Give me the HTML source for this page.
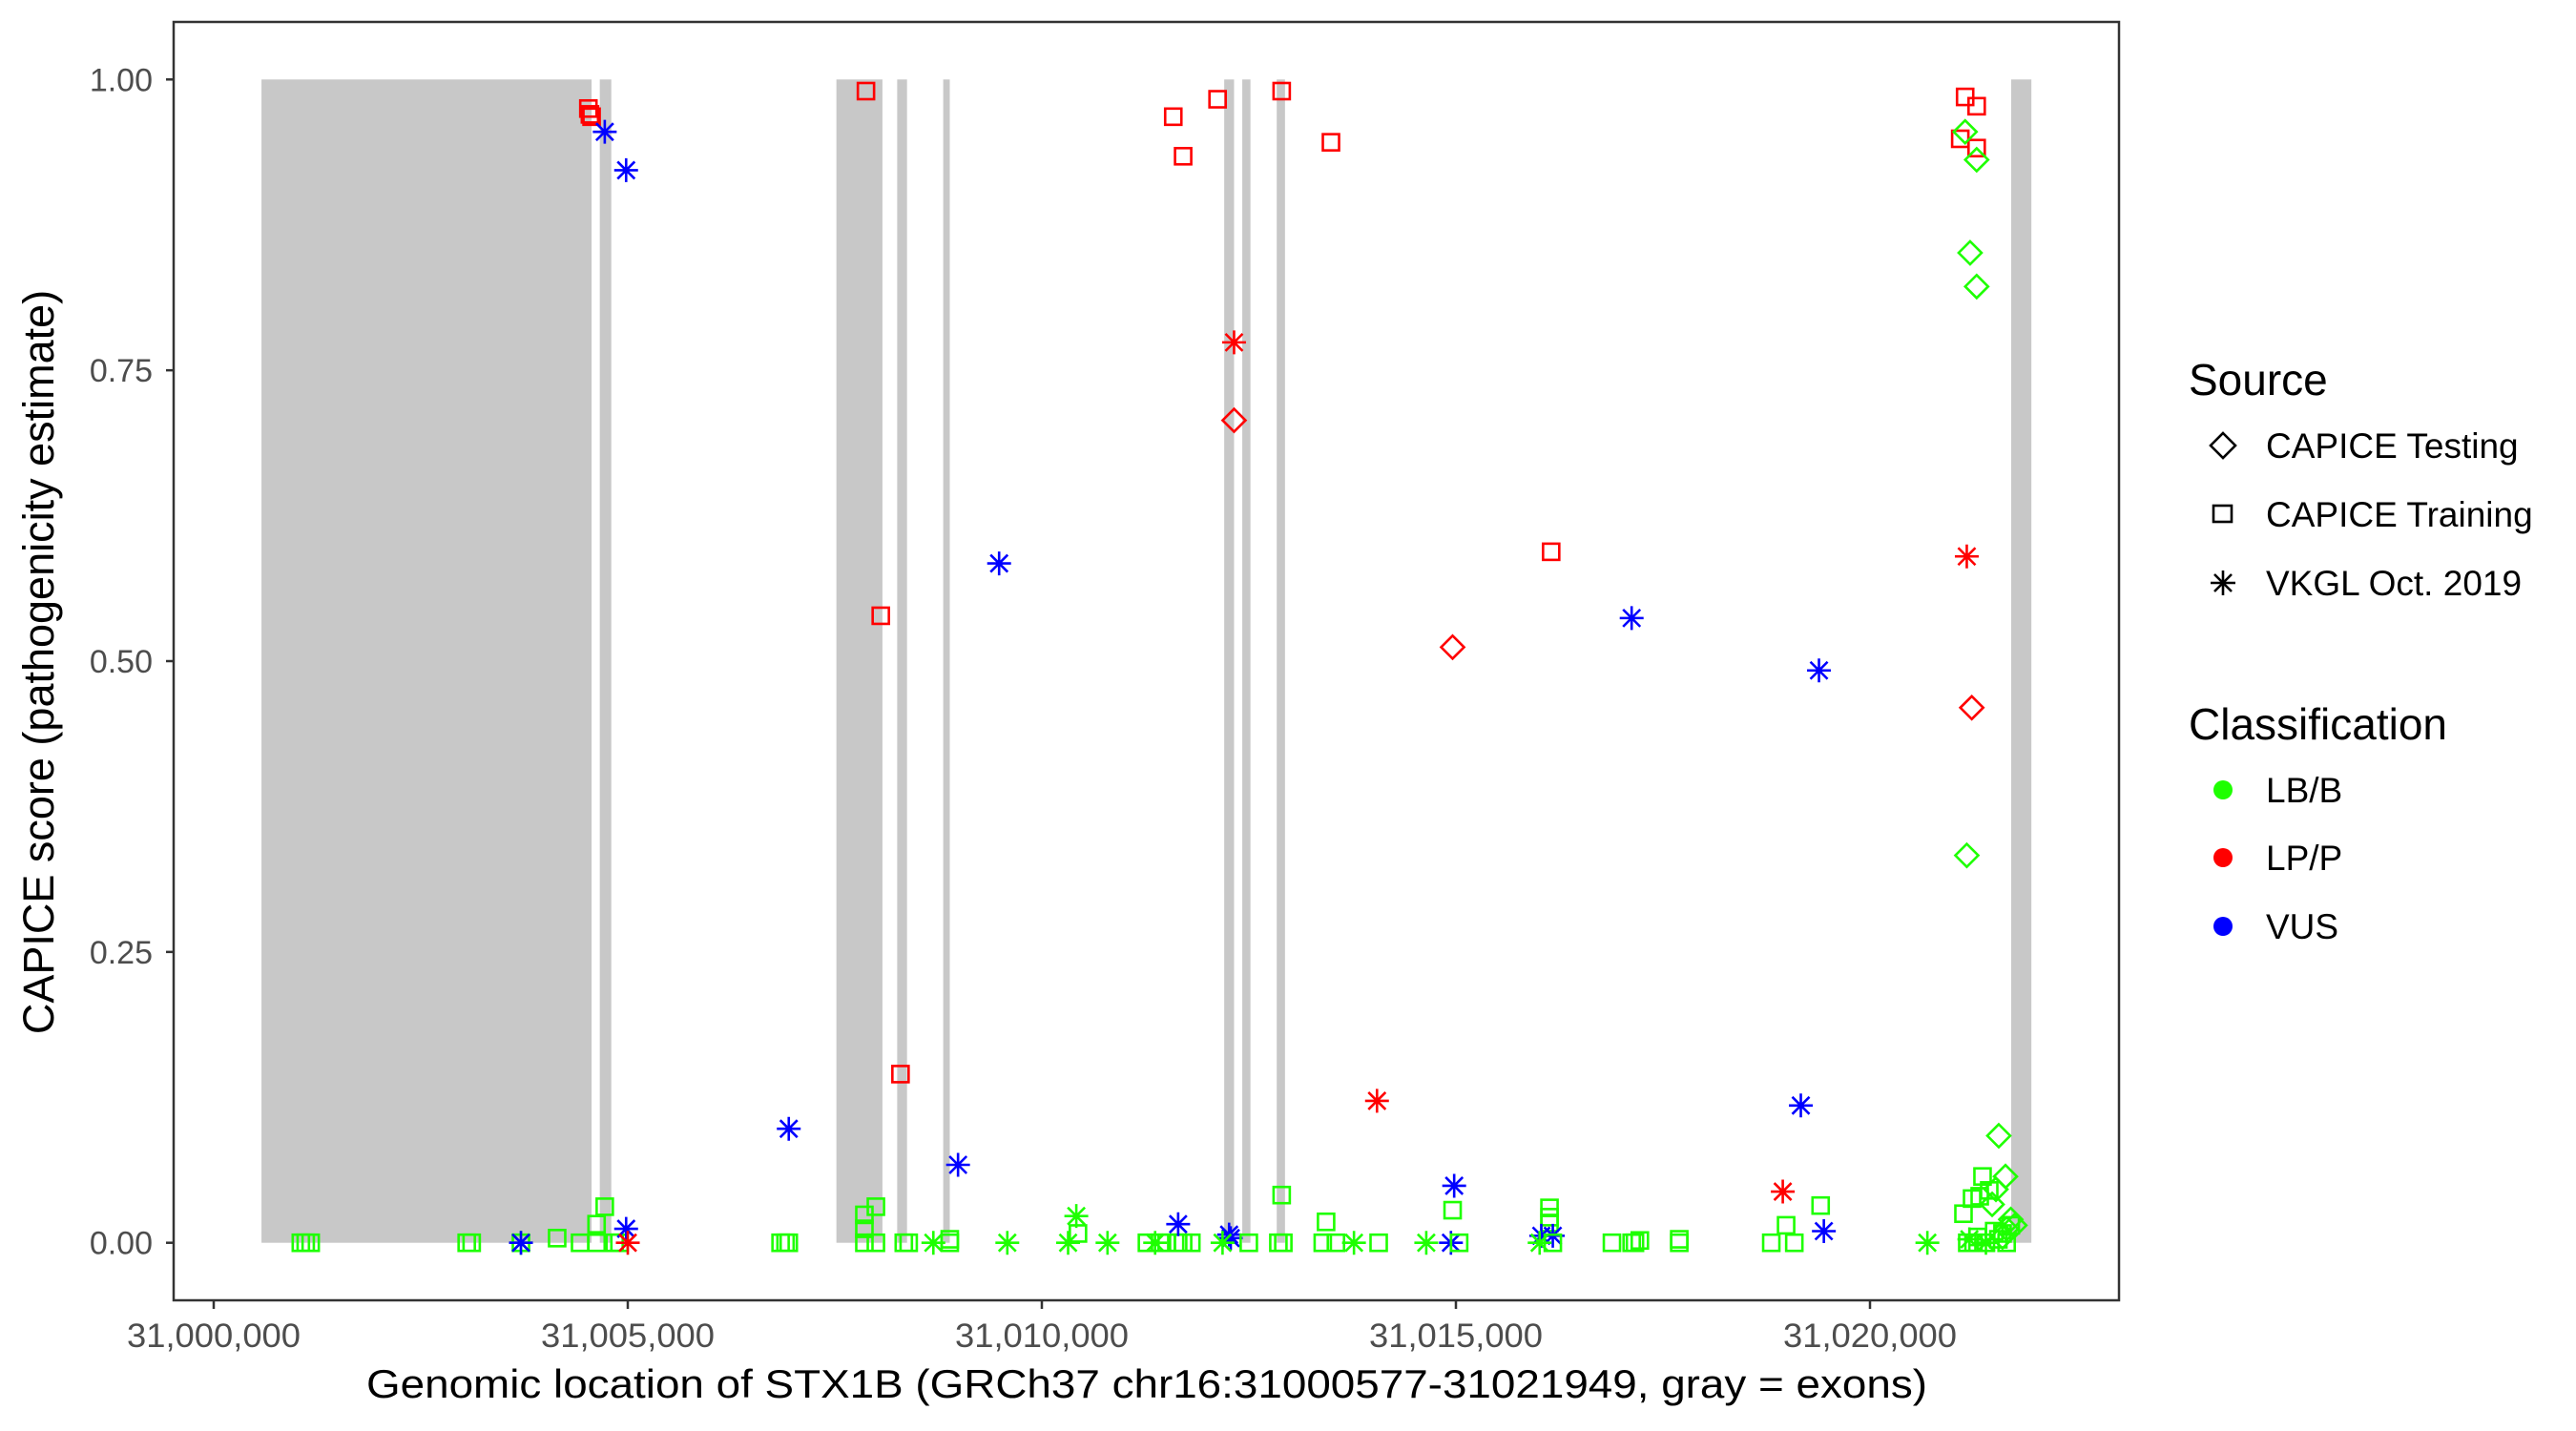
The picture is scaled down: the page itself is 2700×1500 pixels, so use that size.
<!DOCTYPE html>
<html><head><meta charset="utf-8"><style>
html,body{margin:0;padding:0;background:#fff;}
svg{display:block;font-family:"Liberation Sans",Arial,sans-serif;}
</style></head><body>
<svg id="chart" width="2700" height="1500" viewBox="0 0 2700 1500" xmlns="http://www.w3.org/2000/svg">
<rect x="0" y="0" width="2700" height="1500" fill="#fff"/>
<g id="exons"></g>
<g id="points"></g>
<rect x="182" y="23" width="2039" height="1340" fill="none" stroke="#333" stroke-width="2.5"/>
<g id="yaxis"></g>
<g id="xaxis"></g>
<text x="1202" y="1465" font-size="42" text-anchor="middle" textLength="1636" lengthAdjust="spacingAndGlyphs">Genomic location of STX1B (GRCh37 chr16:31000577-31021949, gray = exons)</text>
<text transform="translate(56,694) rotate(-90)" font-size="45" text-anchor="middle">CAPICE score (pathogenicity estimate)</text>
<g>
<text x="2294" y="414" font-size="46">Source</text>
<path d="M2330,454 L2343,467 L2330,480 L2317,467 Z" fill="none" stroke="#000" stroke-width="2.6"/>
<text x="2375" y="480" font-size="37">CAPICE Testing</text>
<rect x="2320" y="530" width="19" height="17" fill="none" stroke="#000" stroke-width="2.6"/>
<text x="2375" y="552" font-size="37">CAPICE Training</text>
<g stroke="#000" stroke-width="2.6"><line x1="2330" y1="598" x2="2330" y2="624"/><line x1="2317" y1="611" x2="2343" y2="611"/><line x1="2321" y1="602" x2="2339" y2="620"/><line x1="2339" y1="602" x2="2321" y2="620"/></g>
<text x="2375" y="624" font-size="37">VKGL Oct. 2019</text>
</g>
<g>
<text x="2294" y="775" font-size="46">Classification</text>
<circle cx="2330" cy="828" r="10" fill="#1eff00"/>
<text x="2375" y="841" font-size="37">LB/B</text>
<circle cx="2330" cy="899" r="10" fill="#ff0000"/>
<text x="2375" y="912" font-size="37">LP/P</text>
<circle cx="2330" cy="971" r="10" fill="#0000ff"/>
<text x="2375" y="984" font-size="37">VUS</text>
</g>
</svg>
<script>
const BASE = 31000000;
const exonStarts = [577, 4662, 7519, 8253, 8809, 12202, 12420, 12836, 21705];
const exonEnds = [4563, 4801, 8075, 8372, 8888, 12321, 12519, 12936, 21949];
const xTicks = [31000000, 31005000, 31010000, 31015000, 31020000];
const xTickLabels = ["31,000,000", "31,005,000", "31,010,000", "31,015,000", "31,020,000"];
const yTicks = [0, 0.25, 0.5, 0.75, 1];
const yTickLabels = ["0.00", "0.25", "0.50", "0.75", "1.00"];
const pointPos = [
4524,4543,4563,4722,4980,7876,8055,8293,9484,6944,8988,11587,11706,12122,12896,13491,12321,12321,14047,14960,16150,
17122,19384,19165,19443,18947,21149,21288,21090,21288,21149,21288,21209,21288,21169,21169,21229,21555,21636,
1052,1111,1171,3055,3115,3710,3710,3710,4147,4424,4623,4623,4722,4841,4900,4980,5000,
6845,6905,6944,7857,7857,7857,7996,7996,8333,8392,8690,8888,8888,9583,10416,10317,10436,10793,
11269,11428,11507,11646,11706,11805,11368,11646,12261,12281,12182,12499,12856,12916,12896,13432,13392,13551,13769,14067,
14642,14940,14979,14960,15039,16130,16130,16130,16031,16170,16170,16011,16884,17122,17162,17221,17697,17697,18808,18987,19086,19404,20693,
21129,21233,21359,21325,21440,21175,21250,21300,21400,21500,21600,21700,21650,21550,21475,21521,21700,21650,21600,21750,21200,21400];
const pointScore = [
0.975,0.97,0.968,0.955,0.922,0.99,0.539,0.145,0.584,0.098,0.067,0.968,0.934,0.983,0.99,0.946,0.774,0.707,0.122,0.512,0.594,
0.537,0.492,0.118,0.01,0.044,0.985,0.977,0.949,0.941,0.955,0.931,0.851,0.822,0.333,0.59,0.46,0.092,0.057,
0,0,0,0,0,0,0,0,0.004,0,0,0.016,0.031,0,0,0.012,0,
0,0,0,0,0.012,0.024,0.031,0,0,0,0,0,0.003,0,0.023,0,0.008,0,
0,0,0,0,0,0,0,0.016,0.007,0.004,0,0,0,0,0.041,0.018,0,0,0,0,
0,0,0.049,0.028,0,0.03,0.022,0.017,0.006,0.006,0,0,0,0,0,0.002,0.003,0,0,0.015,0,0.032,0,
0.025,0.038,0.057,0.04,0.045,0,0,0.005,0,0.01,0.008,0.015,0,0.003,0.033,0.046,0.02,0.012,0.005,0.015,0.003,0];
const pointSource = [
"R","R","R","V","V","R","R","R","V","V","V","R","R","R","R","R","V","T","V","T","R",
"V","V","V","V","V","R","R","R","R","T","T","T","T","T","V","T","T","T",
"R","R","R","R","R","R","V","V","R","R","R","R","R","R","R","V","V",
"R","R","R","R","R","R","R","R","R","R","V","R","R","V","V","V","R","V",
"R","R","R","R","R","R","V","V","V","V","V","R","R","R","R","R","R","R","V","R",
"V","V","V","R","R","R","R","R","V","V","R","V","R","R","R","R","R","R","R","R","R","R","V",
"R","R","R","R","R","R","R","R","R","R","R","R","R","R","T","T","T","T","T","T","V","V"];
const pointClass = [
"P","P","P","U","U","P","P","P","U","U","U","P","P","P","P","P","P","P","P","P","P",
"U","U","U","U","P","P","P","P","P","B","B","B","B","B","P","P","B","B",
"B","B","B","B","B","B","B","U","B","B","B","B","B","B","B","U","P",
"B","B","B","B","B","B","B","B","B","B","B","B","B","B","B","B","B","B",
"B","B","B","B","B","B","B","U","U","U","B","B","B","B","B","B","B","B","B","B",
"B","U","U","B","B","B","B","B","U","U","B","B","B","B","B","B","B","B","B","B","B","B","B",
"B","B","B","B","B","B","B","B","B","B","B","B","B","B","B","B","B","B","B","B","B","B"];

const NS = "http://www.w3.org/2000/svg";
function xScale(bp){ return 224 + (bp - 31000000) * 0.0868; }
function yScale(s){ return 1302.7 - s * 1219.4; }
const colors = {B:"#1eff00", P:"#ff0000", U:"#0000ff"};
function mk(tag, attrs, parent){ const e=document.createElementNS(NS,tag); for(const k in attrs) e.setAttribute(k, attrs[k]); parent.appendChild(e); return e; }

const exG = document.getElementById("exons");
exonStarts.forEach((s,i)=>{
  const x1 = xScale(BASE + s), x2 = xScale(BASE + exonEnds[i]);
  const r = mk("rect",{x:x1,y:yScale(1),width:Math.max(x2-x1,2),height:yScale(0)-yScale(1),fill:"#c8c8c8"},exG);
  
  
});

const yG = document.getElementById("yaxis");
yTicks.forEach((v,i)=>{
  const y = yScale(v);
  const t = mk("line",{x1:174,y1:y,x2:182,y2:y,stroke:"#333","stroke-width":2.5},yG);
  
  
  const l = mk("text",{x:160,y:y+12,"font-size":34,fill:"#4d4d4d","text-anchor":"end"},yG);
  l.textContent = yTickLabels[i];
  
  
});
const xG = document.getElementById("xaxis");
xTicks.forEach((v,i)=>{
  const x = xScale(v);
  const t = mk("line",{x1:x,y1:1363,x2:x,y2:1372,stroke:"#333","stroke-width":2.5},xG);
  
  
  const l = mk("text",{x:x,y:1412,"font-size":35,fill:"#4d4d4d","text-anchor":"middle",textLength:182,lengthAdjust:"spacingAndGlyphs"},xG);
  l.textContent = xTickLabels[i];
  
  
});

const pG = document.getElementById("points");
pointPos.forEach((p,i)=>{
  const cx = xScale(BASE + p), cy = yScale(pointScore[i]);
  const c = colors[pointClass[i]];
  const src = pointSource[i];
  let el;
  if(src === "R"){
    el = mk("rect",{x:cx-8.5,y:cy-8.5,width:17,height:17,fill:"none",stroke:c,"stroke-width":2.6},pG);
    
  } else if(src === "T"){
    el = mk("path",{d:`M${cx},${cy-12} L${cx+12},${cy} L${cx},${cy+12} L${cx-12},${cy} Z`,fill:"none",stroke:c,"stroke-width":2.6},pG);
    
  } else {
    el = mk("path",{d:`M${cx},${cy-12.5} L${cx},${cy+12.5} M${cx-12.5},${cy} L${cx+12.5},${cy} M${cx-9},${cy-9} L${cx+9},${cy+9} M${cx+9},${cy-9} L${cx-9},${cy+9}`,fill:"none",stroke:c,"stroke-width":2.6},pG);
    
  }
  
});
</script>
</body></html>
